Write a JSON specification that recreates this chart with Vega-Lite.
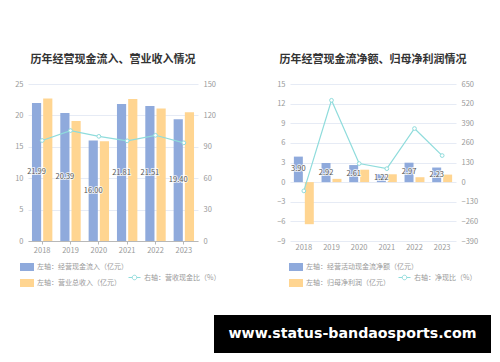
{
  "$schema": "https://vega.github.io/schema/vega-lite/v6.json",
  "background": "#ffffff",
  "padding": {"left": 14, "top": 54, "right": 5, "bottom": 5},
  "spacing": 28,
  "datasets": {
    "leftBars": [
      {"year": "2018", "series": "左轴：经营现金流入（亿元）", "value": 21.99},
      {"year": "2019", "series": "左轴：经营现金流入（亿元）", "value": 20.39},
      {"year": "2020", "series": "左轴：经营现金流入（亿元）", "value": 16.00},
      {"year": "2021", "series": "左轴：经营现金流入（亿元）", "value": 21.81},
      {"year": "2022", "series": "左轴：经营现金流入（亿元）", "value": 21.51},
      {"year": "2023", "series": "左轴：经营现金流入（亿元）", "value": 19.40},
      {"year": "2018", "series": "左轴：营业总收入（亿元）", "value": 22.7},
      {"year": "2019", "series": "左轴：营业总收入（亿元）", "value": 19.1},
      {"year": "2020", "series": "左轴：营业总收入（亿元）", "value": 15.9},
      {"year": "2021", "series": "左轴：营业总收入（亿元）", "value": 22.6},
      {"year": "2022", "series": "左轴：营业总收入（亿元）", "value": 21.1},
      {"year": "2023", "series": "左轴：营业总收入（亿元）", "value": 20.5}
    ],
    "leftLine": [
      {"year": "2018", "ratio": 96.0},
      {"year": "2019", "ratio": 105.5},
      {"year": "2020", "ratio": 100.0},
      {"year": "2021", "ratio": 95.7},
      {"year": "2022", "ratio": 101.0},
      {"year": "2023", "ratio": 93.8}
    ],
    "rightBars": [
      {"year": "2018", "series": "左轴：经营活动现金流净额（亿元）", "value": 3.90},
      {"year": "2019", "series": "左轴：经营活动现金流净额（亿元）", "value": 2.92},
      {"year": "2020", "series": "左轴：经营活动现金流净额（亿元）", "value": 2.61},
      {"year": "2021", "series": "左轴：经营活动现金流净额（亿元）", "value": 1.22},
      {"year": "2022", "series": "左轴：经营活动现金流净额（亿元）", "value": 2.97},
      {"year": "2023", "series": "左轴：经营活动现金流净额（亿元）", "value": 2.23},
      {"year": "2018", "series": "左轴：归母净利润（亿元）", "value": -6.43},
      {"year": "2019", "series": "左轴：归母净利润（亿元）", "value": 0.5},
      {"year": "2020", "series": "左轴：归母净利润（亿元）", "value": 1.9},
      {"year": "2021", "series": "左轴：归母净利润（亿元）", "value": 1.2},
      {"year": "2022", "series": "左轴：归母净利润（亿元）", "value": 0.75},
      {"year": "2023", "series": "左轴：归母净利润（亿元）", "value": 1.15}
    ],
    "rightLine": [
      {"year": "2018", "ratio": -58},
      {"year": "2019", "ratio": 542},
      {"year": "2020", "ratio": 123},
      {"year": "2021", "ratio": 89},
      {"year": "2022", "ratio": 355},
      {"year": "2023", "ratio": 176}
    ],
    "years": [
      {"year": "2018"}, {"year": "2019"}, {"year": "2020"},
      {"year": "2021"}, {"year": "2022"}, {"year": "2023"}
    ]
  },
  "vconcat": [
    {
      "spacing": 55,
      "resolve": {
        "scale": {"color": "independent", "stroke": "independent", "x": "independent", "xOffset": "independent", "y": "independent"},
        "legend": {"color": "independent", "stroke": "independent"}
      },
      "hconcat": [
        {
          "width": 170,
          "height": 157,
          "title": {"text": "历年经营现金流入、营业收入情况"},
          "resolve": {"scale": {"y": "independent"}},
          "layer": [
            {
              "data": {"name": "leftBars"},
              "mark": {"type": "bar"},
              "encoding": {
                "x": {
                  "field": "year", "type": "ordinal",
                  "scale": {"paddingInner": 0.28, "paddingOuter": 0.14},
                  "axis": {"title": null, "labelAngle": 0, "domain": true, "domainColor": "#b8b8b8", "ticks": true, "tickColor": "#b8b8b8", "tickSize": 3, "labelPadding": 2}
                },
                "xOffset": {"field": "series", "scale": {"domain": ["左轴：经营现金流入（亿元）", "左轴：营业总收入（亿元）"], "paddingInner": 0.18, "paddingOuter": 0}},
                "y": {
                  "field": "value", "type": "quantitative",
                  "scale": {"domain": [0, 25], "nice": false, "zero": false},
                  "axis": {"title": null, "values": [0, 5, 10, 15, 20, 25], "grid": true, "gridColor": "#e6ebf5", "labelPadding": 5}
                },
                "color": {
                  "field": "series", "type": "nominal",
                  "scale": {"domain": ["左轴：经营现金流入（亿元）", "左轴：营业总收入（亿元）"], "range": ["#8faadc", "#ffd591"]},
                  "legend": {
                    "orient": "none", "legendX": -8, "legendY": 176, "direction": "vertical", "title": null,
                    "symbolType": "M-1,-0.57H1V0.57H-1Z", "symbolSize": 196, "symbolStrokeWidth": 0,
                    "labelFontSize": 7, "labelColor": "#999999", "labelOffset": 3, "rowPadding": 5, "padding": 0
                  }
                }
              }
            },
            {
              "data": {"name": "leftBars"},
              "transform": [{"filter": "datum.series === '左轴：经营现金流入（亿元）'"}],
              "encoding": {
                "x": {"field": "year", "type": "ordinal"},
                "xOffset": {"field": "series", "scale": {"domain": ["左轴：经营现金流入（亿元）", "左轴：营业总收入（亿元）"]}},
                "y": {"field": "value", "type": "quantitative", "scale": {"domain": [0, 50], "nice": false, "zero": false}, "axis": null},
                "text": {"field": "value", "type": "quantitative", "format": ".2f"}
              },
              "layer": [
                {"mark": {"type": "text", "fontSize": 7.5, "color": "#ffffff", "stroke": "#ffffff", "strokeWidth": 2, "strokeOpacity": 0.7}},
                {"mark": {"type": "text", "fontSize": 7.5, "color": "#555555"}}
              ]
            },
            {
              "data": {"name": "leftLine"},
              "encoding": {
                "x": {"field": "year", "type": "ordinal"},
                "y": {
                  "field": "ratio", "type": "quantitative",
                  "scale": {"domain": [0, 150], "nice": false, "zero": false},
                  "axis": {"title": null, "orient": "right", "values": [0, 30, 60, 90, 120, 150], "grid": false, "labelPadding": 5}
                }
              },
              "layer": [
                {
                  "mark": {"type": "line", "strokeWidth": 1.2},
                  "encoding": {
                    "stroke": {
                      "datum": "右轴：营收现金比（%）",
                      "scale": {"range": ["#8fdcdc"]},
                      "legend": {
                        "orient": "none", "legendX": 100, "legendY": 187, "title": null,
                        "symbolType": "M-1,0H-0.38M0.38,0H1M-0.38,0A0.38,0.38 0 1 1 0.38,0A0.38,0.38 0 1 1 -0.38,0",
                        "symbolSize": 144, "symbolStrokeWidth": 1, "symbolFillColor": "#ffffff",
                        "labelFontSize": 7, "labelColor": "#999999", "labelOffset": 3, "padding": 0
                      }
                    }
                  }
                },
                {"mark": {"type": "point", "filled": true, "fill": "#ffffff", "stroke": "#8fdcdc", "strokeWidth": 1, "size": 14, "opacity": 1}}
              ]
            }
          ]
        },
        {
          "width": 166,
          "height": 157,
          "title": {"text": "历年经营现金流净额、归母净利润情况"},
          "resolve": {"scale": {"y": "independent"}},
          "layer": [
            {
              "encoding": {
                "x": {
                  "field": "year", "type": "ordinal",
                  "scale": {"paddingInner": 0.28, "paddingOuter": 0.14},
                  "axis": {"title": null, "labelAngle": 0, "domain": false, "ticks": false, "labelPadding": 2}
                },
                "y": {
                  "field": "value", "type": "quantitative",
                  "scale": {"domain": [-9, 15], "nice": false, "zero": false},
                  "axis": {"title": null, "values": [-9, -6, -3, 0, 3, 6, 9, 12, 15], "grid": true, "gridColor": "#e6ebf5", "labelPadding": 5}
                }
              },
              "layer": [
                {
                  "data": {"name": "rightBars"},
                  "mark": {"type": "bar"},
                  "encoding": {
                    "xOffset": {"field": "series", "scale": {"domain": ["左轴：经营活动现金流净额（亿元）", "左轴：归母净利润（亿元）"], "paddingInner": 0.18, "paddingOuter": 0}},
                    "color": {
                      "field": "series", "type": "nominal",
                      "scale": {"domain": ["左轴：经营活动现金流净额（亿元）", "左轴：归母净利润（亿元）"], "range": ["#8faadc", "#ffd591"]},
                      "legend": {
                        "orient": "none", "legendX": -1, "legendY": 176, "direction": "vertical", "title": null,
                        "symbolType": "M-1,-0.57H1V0.57H-1Z", "symbolSize": 196, "symbolStrokeWidth": 0,
                        "labelFontSize": 7, "labelColor": "#999999", "labelOffset": 3, "rowPadding": 5, "padding": 0
                      }
                    }
                  }
                },
                {
                  "data": {"name": "years"},
                  "mark": {"type": "rule", "color": "#b8b8b8", "strokeWidth": 1},
                  "encoding": {"y": {"datum": 0}}
                }
              ]
            },
            {
              "data": {"name": "rightBars"},
              "transform": [{"filter": "datum.series === '左轴：经营活动现金流净额（亿元）'"}],
              "encoding": {
                "x": {"field": "year", "type": "ordinal"},
                "xOffset": {"field": "series", "scale": {"domain": ["左轴：经营活动现金流净额（亿元）", "左轴：归母净利润（亿元）"]}},
                "y": {"field": "value", "type": "quantitative", "scale": {"domain": [-18, 30], "nice": false, "zero": false}, "axis": null},
                "text": {"field": "value", "type": "quantitative", "format": ".2f"}
              },
              "layer": [
                {"mark": {"type": "text", "fontSize": 7.5, "color": "#ffffff", "stroke": "#ffffff", "strokeWidth": 2, "strokeOpacity": 0.7}},
                {"mark": {"type": "text", "fontSize": 7.5, "color": "#555555"}}
              ]
            },
            {
              "data": {"name": "rightLine"},
              "encoding": {
                "x": {"field": "year", "type": "ordinal"},
                "y": {
                  "field": "ratio", "type": "quantitative",
                  "scale": {"domain": [-390, 650], "nice": false, "zero": false},
                  "axis": {"title": null, "orient": "right", "values": [-390, -260, -130, 0, 130, 260, 390, 520, 650], "grid": false, "labelPadding": 5}
                }
              },
              "layer": [
                {
                  "mark": {"type": "line", "strokeWidth": 1.2},
                  "encoding": {
                    "stroke": {
                      "datum": "右轴：净现比（%）",
                      "scale": {"range": ["#8fdcdc"]},
                      "legend": {
                        "orient": "none", "legendX": 108, "legendY": 187, "title": null,
                        "symbolType": "M-1,0H-0.38M0.38,0H1M-0.38,0A0.38,0.38 0 1 1 0.38,0A0.38,0.38 0 1 1 -0.38,0",
                        "symbolSize": 144, "symbolStrokeWidth": 1, "symbolFillColor": "#ffffff",
                        "labelFontSize": 7, "labelColor": "#999999", "labelOffset": 3, "padding": 0
                      }
                    }
                  }
                },
                {"mark": {"type": "point", "filled": true, "fill": "#ffffff", "stroke": "#8fdcdc", "strokeWidth": 1, "size": 14, "opacity": 1}}
              ]
            }
          ]
        }
      ]
    },
    {
      "spacing": 0,
      "hconcat": [
        {
          "width": 186,
          "height": 38,
          "data": {"values": [{"t": ""}]},
          "mark": {"type": "text"},
          "encoding": {"text": {"field": "t"}}
        },
        {
          "width": 277,
          "height": 38,
          "view": {"fill": "#000000", "stroke": null},
          "data": {"values": [{"t": "www.status-bandaosports.com"}]},
          "mark": {"type": "text", "color": "#ffffff", "fontSize": 14.2, "fontWeight": "bold", "font": "DejaVu Sans"},
          "encoding": {"text": {"field": "t"}}
        }
      ]
    }
  ],
  "config": {
    "font": "Noto Sans CJK SC",
    "view": {"stroke": null},
    "axis": {"labelColor": "#999999", "labelFontSize": 7.5, "grid": false, "domain": false, "ticks": false},
    "title": {"fontSize": 11, "fontWeight": "bold", "color": "#333333", "offset": 15, "anchor": "middle"},
    "legend": {"labelFont": "Noto Sans CJK SC"}
  }
}
